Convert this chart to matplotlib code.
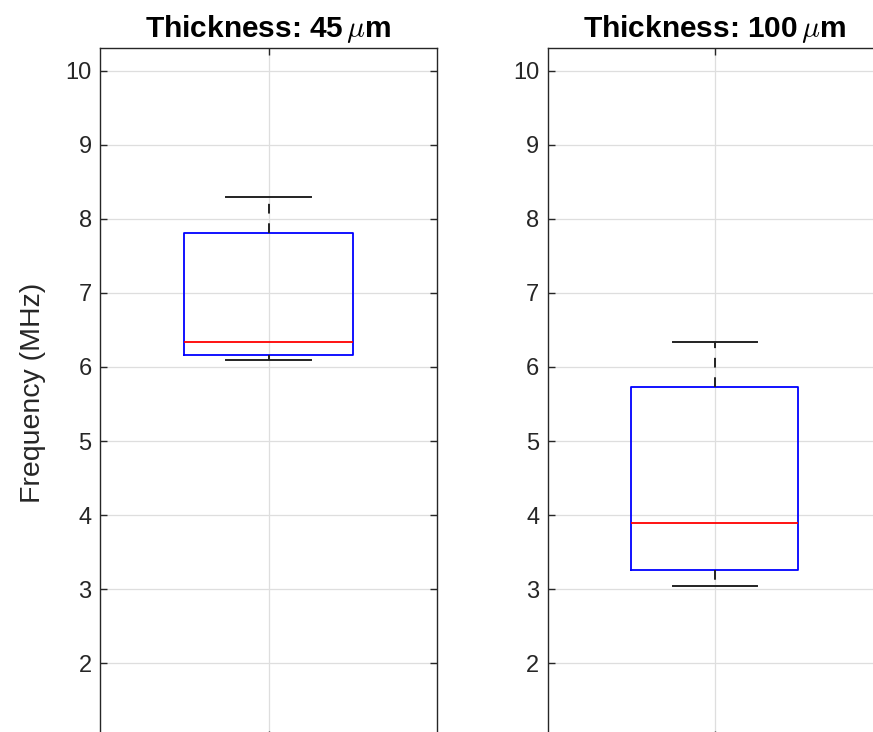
import numpy as np
import matplotlib.pyplot as plt

plt.rcParams['font.family'] = ['Liberation Sans', 'DejaVu Sans']
plt.rcParams['mathtext.fontset'] = 'cm'

# box statistics (MHz)
titles = [r'Thickness: 45$\,\mu$m', r'Thickness: 100$\,\mu$m']
whislo = [6.09, 3.04]
q1 = [6.16, 3.26]
med = [6.34, 3.90]
q3 = [7.81, 5.73]
whishi = [8.30, 6.34]
yticks = [2, 3, 4, 5, 6, 7, 8, 9, 10]

W, H = 873, 732
fig = plt.figure(figsize=(W / 100, H / 100), dpi=100)

# axes positions in pixels (left, top, right, bottom); parts fall outside the crop
boxes_px = [(100, 48.3, 437, 737.5), (547.7, 48.3, 882, 737.5)]
axc = '#262626'

for i in range(2):
	l, t, r, b = boxes_px[i]
	ax = fig.add_axes([l / W, (H - b) / H, (r - l) / W, (b - t) / H])

	stats = [dict(whislo=whislo[i], q1=q1[i], med=med[i], q3=q3[i], whishi=whishi[i], fliers=[])]
	ax.bxp(stats, positions=[1], widths=0.5, showfliers=False,
		boxprops=dict(color='#0000ff', lw=1.3),
		medianprops=dict(color='#ff0000', lw=1.3),
		whiskerprops=dict(color='#222222', lw=1.4, ls=(0, (5, 5))),
		capprops=dict(color='#222222', lw=1.4),
		capwidths=0.25, zorder=3)

	ax.set_xlim(0.5, 1.5)
	ax.set_ylim(1, 10.3)
	ax.set_xticks([1])
	ax.set_xticklabels([])
	ax.set_yticks(yticks)
	ax.grid(True, color='#dedede', lw=0.9, zorder=0)
	ax.set_axisbelow(True)
	ax.tick_params(direction='in', length=5, width=1, color=axc, labelcolor=axc,
		labelsize=17, top=True, right=True, pad=6)
	for s in ax.spines.values():
		s.set_color(axc)
		s.set_linewidth(1)
	ax.set_title(titles[i], fontsize=21.5, fontweight='bold', pad=8)
	if i == 0:
		ax.set_ylabel('Frequency (MHz)', fontsize=20.5, color=axc, labelpad=14)

fig.savefig('out.png', dpi=100)
